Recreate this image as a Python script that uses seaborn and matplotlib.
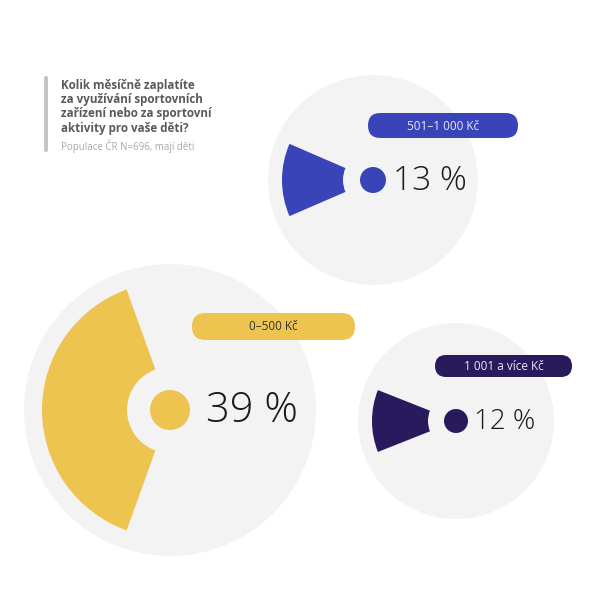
import numpy as np
import seaborn as sns
import matplotlib.pyplot as plt
from matplotlib.patches import Circle, Wedge, FancyBboxPatch

# data
categories = ['0–500 Kč', '501–1 000 Kč', '1 001 a více Kč']
shares = [39, 13, 12]
colors = ['#EEC451', '#3A44B9', '#281A5C']
label_text_colors = ['#333333', '#E8E8F5', '#E8E8F5']

title = 'Kolik měsíčně zaplatíte\nza využívání sportovních\nzařízení nebo za sportovní\naktivity pro vaše děti?'
subtitle = 'Populace ČR N=696, mají děti'

# layout (pixel space, y down)
centers = [(170, 410), (373, 180), (456, 421)]
bg_radius = [146, 105, 98]
outer_r = [128, 91, 84]
inner_r = [43, 30, 28]
dot_r = [20, 13, 12]
pill_box = [(192, 313, 163, 27), (368, 113, 150, 25), (435, 355, 137, 22)]
pct_size = [30, 24, 20]
pct_dx = [36, 20, 18]

sns.set_theme(style='white')
plt.rcParams['font.family'] = ['Open Sans', 'DejaVu Sans']

fig = plt.figure(figsize=(6, 6), dpi=100)
ax = fig.add_axes([0, 0, 1, 1])
ax.set_xlim(0, 600)
ax.set_ylim(600, 0)
ax.set_aspect('equal')
ax.axis('off')

for i, cat in enumerate(categories):
    cx, cy = centers[i]
    ax.add_patch(Circle((cx, cy), bg_radius[i], color='#F3F3F4', lw=0, zorder=1))
    half = shares[i] / 100 * 360 / 2
    ax.add_patch(Wedge((cx, cy), outer_r[i], 180 - half, 180 + half,
                       width=outer_r[i] - inner_r[i], color=colors[i], lw=0, zorder=2))
    ax.add_patch(Circle((cx, cy), dot_r[i], color=colors[i], lw=0, zorder=3))
    ax.text(cx + pct_dx[i], cy + 1, f'{shares[i]} %', fontsize=pct_size[i],
            fontweight='light', color='#1a1a1a', ha='left', va='center', zorder=4)
    px, py, pw, ph = pill_box[i]
    ax.add_patch(FancyBboxPatch((px, py), pw, ph,
                                boxstyle=f'round,pad=0,rounding_size={ph / 2}',
                                color=colors[i], lw=0, zorder=5))
    ax.text(px + pw / 2, py + ph / 2 + 0.5, cat, fontsize=8.5, color=label_text_colors[i],
            ha='center', va='center', zorder=6)

# title block
ax.add_patch(FancyBboxPatch((44, 76), 4, 76, boxstyle='round,pad=0,rounding_size=2',
                            color='#C4C4C4', lw=0))
ax.text(61, 79, title, fontsize=8.4, fontweight='bold', color='#5A5A5A',
        ha='left', va='top', linespacing=1.12)
ax.text(61, 146, subtitle, fontsize=7, color='#A8A8A8', ha='left', va='center')

fig.savefig('out.png', dpi=100, facecolor='white')
